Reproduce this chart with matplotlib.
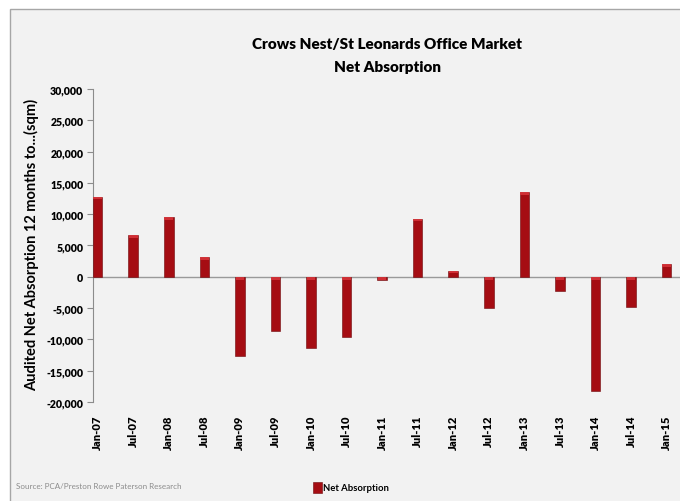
import matplotlib
matplotlib.use("Agg")
import matplotlib.pyplot as plt
from matplotlib.patches import Rectangle
import numpy as np

# Half-yearly periods and audited net absorption (sqm)
periods = ["Jan-07", "Jul-07", "Jan-08", "Jul-08", "Jan-09", "Jul-09",
           "Jan-10", "Jul-10", "Jan-11", "Jul-11", "Jan-12", "Jul-12",
           "Jan-13", "Jul-13", "Jan-14", "Jul-14", "Jan-15"]
net_absorption = [12800, 6700, 9600, 3200, -12600, -8600,
                  -11300, -9600, -500, 9300, 1000, -5000,
                  13500, -2300, -18300, -4800, 2000]
y_ticks = [-20000, -15000, -10000, -5000, 0, 5000, 10000, 15000, 20000, 25000, 30000]

title_text = "Crows Nest/St Leonards Office Market\nNet Absorption"
y_label = "Audited Net Absorption 12 months to...(sqm)"
source_text = "Source: PCA/Preston Rowe Paterson Research"
legend_label = "Net Absorption"

FONT = ["Lato", "DejaVu Sans"]
BG = "#f2f2f2"
BAR = "#a50d13"
BAR_EDGE = "#6e080b"
CAP = "#d8343a"

W, H = 680, 502
fig = plt.figure(figsize=(W / 100, H / 100), dpi=100)
fig.patch.set_facecolor("white")

# chart panel with thin grey border (top / left visible)
panel = Rectangle((9.5 / W, -0.01), 1.02, 1 - 9.5 / H + 0.01, transform=fig.transFigure,
                  facecolor=BG, edgecolor="#a6a6a6", linewidth=1.0, zorder=-10)
fig.patches.append(panel)

left_px, top_px, bottom_px = 93, 90, 403
ax = fig.add_axes([left_px / W, 1 - bottom_px / H, (W - left_px) / W + 0.001,
                   (bottom_px - top_px) / H])
ax.set_facecolor("none")
ax.set_zorder(1)

x = np.arange(len(periods))
width = 0.27
ax.bar(x, net_absorption, width=width, color=BAR, edgecolor=BAR_EDGE,
       linewidth=0.4, zorder=3)
# lighter bevel on the upper end of each bar
cap_h = 450
cap_bottom = [max(v, 0) - cap_h for v in net_absorption]
ax.bar(x, [cap_h] * len(x), bottom=cap_bottom, width=width * 0.9,
       color=CAP, linewidth=0, zorder=4, alpha=0.85)

ax.set_xlim(-0.13, (W - 97) / 35.56)
ax.set_ylim(-20000, 30000)
ax.set_yticks(y_ticks)
ax.set_yticklabels([f"{t:,}" for t in y_ticks])
ax.set_xticks(x)
ax.set_xticklabels(periods, rotation=90)

for s in ("top", "right", "bottom"):
    ax.spines[s].set_visible(False)
ax.spines["left"].set_color("#8c8c8c")
ax.spines["left"].set_linewidth(0.8)
ax.axhline(0, color="#9a9a9a", linewidth=1.0, zorder=2)

ax.tick_params(axis="y", length=4, width=0.8, color="#8c8c8c", pad=3)
ax.tick_params(axis="x", length=0, pad=9)
for lab in ax.get_yticklabels():
    lab.set_fontfamily(FONT)
    lab.set_fontweight("heavy")
    lab.set_fontsize(7.6)
for lab in ax.get_xticklabels():
    lab.set_fontfamily(FONT)
    lab.set_fontweight("heavy")
    lab.set_fontsize(8)

fig.text(32 / W, 1 - 245 / H, y_label, rotation=90, ha="center", va="center",
         fontsize=10.5, fontweight="bold", family=FONT)
fig.text(387 / W, 1 - 56 / H, title_text, ha="center", va="center",
         fontsize=11, fontweight="heavy", family=FONT, linespacing=1.9)
fig.text(16 / W, 1 - 487 / H, source_text, ha="left", va="center",
         fontsize=5.8, color="#8c8c8c", family=FONT)

# legend entry
fig.patches.append(Rectangle((313 / W, 1 - 494 / H), 9 / W, 11 / H,
                             transform=fig.transFigure, facecolor=BAR,
                             edgecolor=BAR_EDGE, linewidth=0.4, zorder=3))
fig.text(323 / W, 1 - 489 / H, legend_label, ha="left", va="center",
         fontsize=6.8, fontweight="bold", family=FONT)

fig.savefig("out.png", dpi=100, facecolor=fig.get_facecolor())
